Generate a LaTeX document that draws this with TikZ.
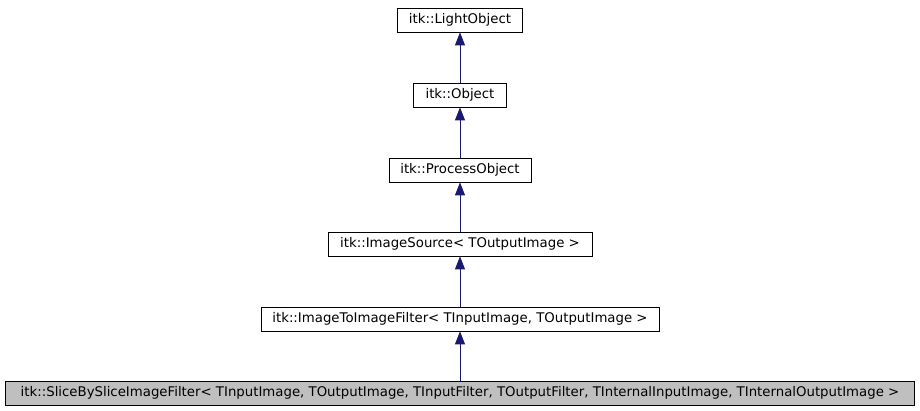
\documentclass[tikz,border=0pt]{standalone}
\usepackage{fontspec}
\setmainfont{DejaVu Sans}
\usepackage{xcolor}
\usepackage{tikz}
\usetikzlibrary{arrows.meta}
\definecolor{inheritblue}{RGB}{25,25,112}
\definecolor{basegray}{RGB}{191,191,191}

\tikzset{
    classbox/.style={draw=black, line width=0.8pt, minimum height=24pt,
        inner sep=0pt, font=\fontsize{13.3}{15}\selectfont},
    inherit/.style={inheritblue, line width=0.9pt,
        -{Triangle[length=13pt, width=10pt]}}
}

\begin{document}
\begin{tikzpicture}[x=1pt, y=-1pt]
    \useasboundingbox (0,0) rectangle (920,411);

    % Classes
    \node[classbox, minimum width=125pt] (light) at (460,20) {itk::LightObject};
    \node[classbox, minimum width=93pt] (object) at (460,95) {itk::Object};
    \node[classbox, minimum width=142pt] (process) at (460,170) {itk::ProcessObject};
    \node[classbox, minimum width=264pt] (source) at (460,244) {itk::ImageSource< TOutputImage >};
    \node[classbox, minimum width=398pt] (imgfilter) at (460,319)
        {itk::ImageToImageFilter< TInputImage, TOutputImage >};
    \node[classbox, fill=basegray, minimum width=909pt] (slicefilter) at (460,393)
        {itk::SliceBySliceImageFilter< TInputImage, TOutputImage, TInputFilter, TOutputFilter, TInternalInputImage, TInternalOutputImage >};

    % Inheritance
    \draw[inherit] (object) -- (light);
    \draw[inherit] (process) -- (object);
    \draw[inherit] (source) -- (process);
    \draw[inherit] (imgfilter) -- (source);
    \draw[inherit] (slicefilter) -- (imgfilter);
\end{tikzpicture}
\end{document}
